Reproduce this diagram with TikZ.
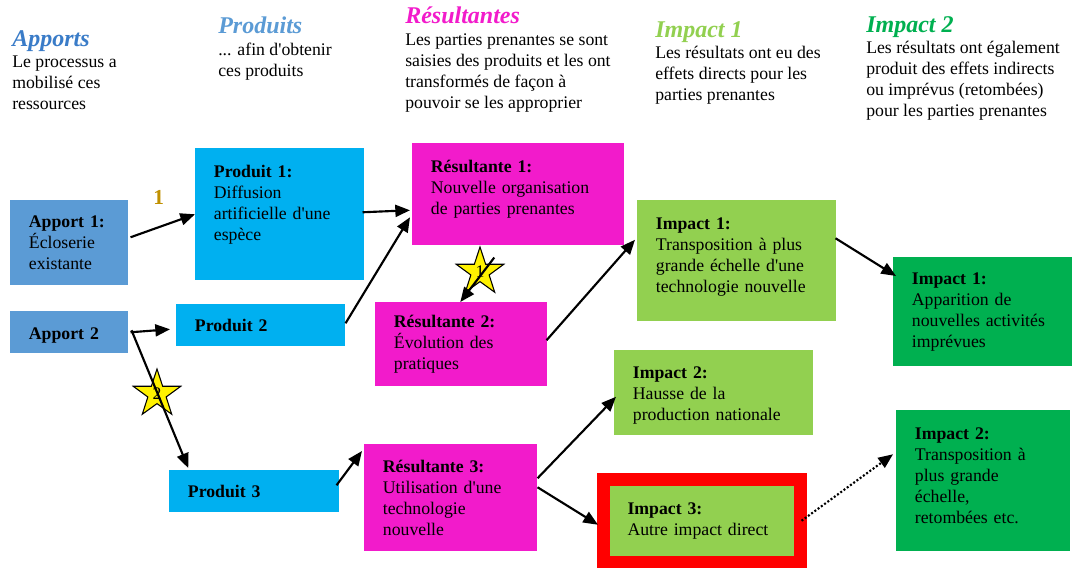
\documentclass[tikz,border=0pt]{standalone}
\usepackage{fontspec}
\setmainfont{Liberation Serif}
\usepackage{xcolor}
\usetikzlibrary{positioning,arrows.meta,shapes.geometric,calc}

\definecolor{apportblue}{HTML}{5B9BD5}
\definecolor{apporttitle}{HTML}{3A7CC8}
\definecolor{produitblue}{HTML}{00B0F0}
\definecolor{resmagenta}{HTML}{F21BCB}
\definecolor{impactlight}{HTML}{92D050}
\definecolor{impactdark}{HTML}{00B050}
\definecolor{numgold}{HTML}{C09000}

\newcommand{\headtitle}[2]{{\fontsize{18}{15.75}\selectfont\bfseries\itshape\color{#1}#2}}
\newcommand{\apos}{\textquotesingle}

\begin{document}
\begin{tikzpicture}[
        x=0.75pt, y=-0.75pt,
        font=\fontsize{13.3}{15.75}\selectfont,
        >={Triangle[length=11pt,width=9pt]},
        box/.style={
            anchor=north west,
            align=left,
            inner xsep=14pt,
            inner ysep=2pt
        },
        apport/.style={box, fill=apportblue},
        produit/.style={box, fill=produitblue},
        resultante/.style={box, fill=resmagenta},
        impactone/.style={box, fill=impactlight},
        impacttwo/.style={box, fill=impactdark},
        header/.style={
            anchor=north west,
            align=left,
            inner sep=0pt,
            font=\fontsize{13.3}{15.9}\selectfont
        },
        arrow/.style={
            ->,
            line width=1.6pt
        },
        numlabel/.style={
            inner sep=0pt,
            text=numgold,
            font=\fontsize{16}{16}\selectfont\bfseries
        },
        starmark/.style={
            star,
            star points=5,
            star point ratio=2.6,
            minimum size=37.5pt,
            inner sep=0pt,
            fill=yellow,
            draw=black,
            line width=0.8pt
        }
    ]

    \path[fill=white, use as bounding box] (0,0) rectangle (1072,568);

    % En-tetes
    \node[header] (hapports) at (12,30) {
        \headtitle{apporttitle}{Apports}\\
        Le processus a\\
        mobilisé ces\\
        ressources
    };
    \node[header] (hproduits) at (218,17) {
        \headtitle{apportblue}{Produits}\\
        ... afin d\apos obtenir\\
        ces produits
    };
    \node[header] (hresultantes) at (405,7) {
        \headtitle{resmagenta}{Résultantes}\\
        Les parties prenantes se sont\\
        saisies des produits et les ont\\
        transformés de façon à\\
        pouvoir se les approprier
    };
    \node[header] (himpactone) at (655,21) {
        \headtitle{impactlight}{Impact 1}\\
        Les résultats ont eu des\\
        effets directs pour les\\
        parties prenantes
    };
    \node[header] (himpacttwo) at (866,16) {
        \headtitle{impactdark}{Impact 2}\\
        Les résultats ont également\\
        produit des effets indirects\\
        ou imprévus (retombées)\\
        pour les parties prenantes
    };

    % Apports
    \node[apport, text width=60.5pt, minimum height=63.75pt] (apport1) at (10,200) {
        \textbf{Apport~1:}\\
        Écloserie\\
        existante
    };
    \node[apport, text width=60.5pt, minimum height=31.5pt, text height=13.7pt] (apport2) at (10,311) {
        \textbf{Apport~2}
    };

    % Produits
    \node[produit, text width=98.75pt, minimum height=99pt, text depth=63.65pt] (prod1) at (195,148) {
        \textbf{Produit~1:}\\
        Diffusion\\
        artificielle d\apos une\\
        espèce
    };
    \node[produit, text width=98.75pt, minimum height=31.5pt] (prod2) at (176,304) {
        \textbf{Produit~2}
    };
    \node[produit, text width=99.5pt, minimum height=31.5pt] (prod3) at (169,470) {
        \textbf{Produit~3}
    };

    % Resultantes
    \node[resultante, text width=131pt, minimum height=76.5pt, text depth=41.9pt] (res1) at (412,143) {
        \textbf{Résultante~1:}\\
        Nouvelle organisation\\
        de parties prenantes
    };
    \node[resultante, text width=101pt, minimum height=63pt] (res2) at (375,302) {
        \textbf{Résultante~2:}\\
        Évolution des\\
        pratiques
    };
    \node[resultante, text width=101.75pt, minimum height=80.25pt] (res3) at (364,444) {
        \textbf{Résultante~3:}\\
        Utilisation d\apos une\\
        technologie\\
        nouvelle
    };

    % Impacts 1
    \node[impactone, text width=121.25pt, minimum height=90.75pt, text depth=56.15pt] (imp1) at (637,200) {
        \textbf{Impact~1:}\\
        Transposition à plus\\
        grande échelle d\apos une\\
        technologie nouvelle
    };
    \node[impactone, text width=121.25pt, minimum height=63.75pt, text depth=29.9pt] (imp2) at (614,350) {
        \textbf{Impact~2:}\\
        Hausse de la\\
        production nationale
    };
    \node[impactone, draw=red, line width=9.75pt, inner xsep=18pt,
          text width=111.4pt, minimum height=61.9pt] (imp3) at (597,473) {
        \textbf{Impact~3:}\\
        Autre impact direct
    };

    % Impacts 2
    \node[impacttwo, text width=106.25pt, minimum height=81.75pt] (dimp1) at (893,257) {
        \textbf{Impact~1:}\\
        Apparition de\\
        nouvelles activités\\
        imprévues
    };
    \node[impacttwo, text width=102.5pt, minimum height=105.75pt, text depth=70.6pt] (dimp2) at (896,410) {
        \textbf{Impact~2:}\\
        Transposition à\\
        plus grande\\
        échelle,\\
        retombées etc.
    };

    % Etoiles
    \node[starmark] (star1) at (480,272) {1};
    \node[starmark] (star2) at (157,394) {2};

    % Fleches
    \draw[arrow] ([shift={(2,-5.5)}]apport1.east) -- node[numlabel, above=15pt, xshift=-3pt] {1} (prod1.west);
    \draw[arrow] ([shift={(2,0)}]apport2.east) -- ([shift={(-6,4)}]prod2.west);
    \draw[arrow] ([shift={(3,-2)}]apport2.east) -- ([shift={(-66,-2)}]prod3.north);
    \draw[arrow] ([shift={(-2,-2)}]prod1.east) -- ([shift={(-2,16)}]res1.west);
    \draw[arrow] ([shift={(0,-2)}]prod2.east) -- ([shift={(-2,23)}]res1.west);
    \draw[arrow] ([shift={(-24,12)}]res1.south) -- ([shift={(-1,0)}]res2.north);
    \draw[arrow] ([shift={(-1,-4)}]res2.east) -- ([shift={(-2,-21)}]imp1.west);
    \draw[arrow] ([shift={(-1,-22.5)}]imp1.east) -- ([shift={(3,19)}]dimp1.north west);
    \draw[arrow] ([shift={(-3,-6)}]prod3.east) -- ([shift={(-2,7)}]res3.north west);
    \draw[arrow] ([shift={(0,-19.5)}]res3.east) -- ([shift={(2,4)}]imp2.west);
    \draw[arrow] ([shift={(0,-10.5)}]res3.east) -- ([shift={(1,4)}]imp3.west);
    \draw[arrow, dash pattern=on 1.5pt off 1.5pt] ([shift={(-5,0)}]imp3.east) -- ([shift={(-3,-26.5)}]dimp2.west);

\end{tikzpicture}
\end{document}
